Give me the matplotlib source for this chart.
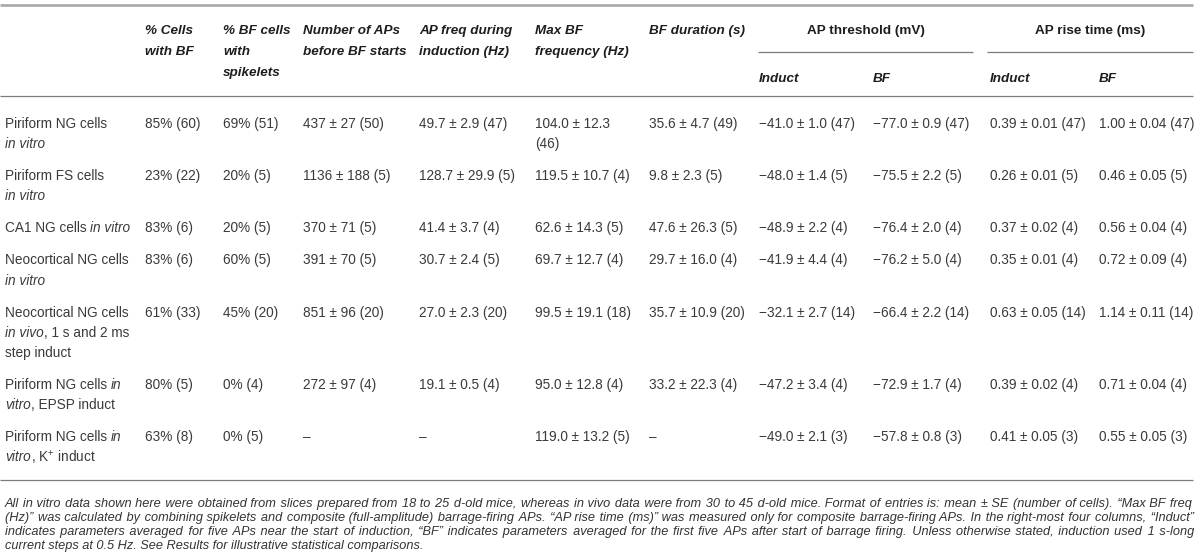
import re
import matplotlib
matplotlib.use("Agg")
import matplotlib.pyplot as plt

plt.rcParams['font.family'] = ['Liberation Sans', 'DejaVu Sans']
plt.rcParams['mathtext.fontset'] = 'custom'
plt.rcParams['mathtext.rm'] = 'Liberation Sans'
plt.rcParams['mathtext.it'] = 'Liberation Sans:italic'

# ---------------- data ----------------
col_headers = ["% Cells\nwith BF", "% BF cells\nwith\nspikelets", "Number of APs\nbefore BF starts",
               "AP freq during\ninduction (Hz)", "Max BF\nfrequency (Hz)", "BF duration (s)"]
span_headers = ["AP threshold (mV)", "AP rise time (ms)"]
sub_headers = ["Induct", "BF", "Induct", "BF"]

row_labels = ["Piriform NG cells\n*in vitro*",
              "Piriform FS cells\n*in vitro*",
              "CA1 NG cells *in vitro*",
              "Neocortical NG cells\n*in vitro*",
              "Neocortical NG cells\n*in vivo*, 1 s and 2 ms\nstep induct",
              "Piriform NG cells *in*\n*vitro*, EPSP induct",
              "Piriform NG cells *in*\n*vitro*, K$^{+}$ induct"]

pct_bf = ["85% (60)", "23% (22)", "83% (6)", "83% (6)", "61% (33)", "80% (5)", "63% (8)"]
pct_spk = ["69% (51)", "20% (5)", "20% (5)", "60% (5)", "45% (20)", "0% (4)", "0% (5)"]
n_aps = ["437 ± 27 (50)", "1136 ± 188 (5)", "370 ± 71 (5)", "391 ± 70 (5)", "851 ± 96 (20)",
         "272 ± 97 (4)", "–"]
ap_freq = ["49.7 ± 2.9 (47)", "128.7 ± 29.9 (5)", "41.4 ± 3.7 (4)", "30.7 ± 2.4 (5)",
           "27.0 ± 2.3 (20)", "19.1 ± 0.5 (4)", "–"]
max_bf = ["104.0 ± 12.3 (46)", "119.5 ± 10.7 (4)", "62.6 ± 14.3 (5)", "69.7 ± 12.7 (4)",
          "99.5 ± 19.1 (18)", "95.0 ± 12.8 (4)", "119.0 ± 13.2 (5)"]
bf_dur = ["35.6 ± 4.7 (49)", "9.8 ± 2.3 (5)", "47.6 ± 26.3 (5)", "29.7 ± 16.0 (4)",
          "35.7 ± 10.9 (20)", "33.2 ± 22.3 (4)", "–"]
thr_ind = ["−41.0 ± 1.0 (47)", "−48.0 ± 1.4 (5)", "−48.9 ± 2.2 (4)", "−41.9 ± 4.4 (4)",
           "−32.1 ± 2.7 (14)", "−47.2 ± 3.4 (4)", "−49.0 ± 2.1 (3)"]
thr_bf = ["−77.0 ± 0.9 (47)", "−75.5 ± 2.2 (5)", "−76.4 ± 2.0 (4)", "−76.2 ± 5.0 (4)",
          "−66.4 ± 2.2 (14)", "−72.9 ± 1.7 (4)", "−57.8 ± 0.8 (3)"]
rise_ind = ["0.39 ± 0.01 (47)", "0.26 ± 0.01 (5)", "0.37 ± 0.02 (4)", "0.35 ± 0.01 (4)",
            "0.63 ± 0.05 (14)", "0.39 ± 0.02 (4)", "0.41 ± 0.05 (3)"]
rise_bf = ["1.00 ± 0.04 (47)", "0.46 ± 0.05 (5)", "0.56 ± 0.04 (4)", "0.72 ± 0.09 (4)",
           "1.14 ± 0.11 (14)", "0.71 ± 0.04 (4)", "0.55 ± 0.05 (3)"]

footnote = [
    "All in vitro data shown here were obtained from slices prepared from 18 to 25 d-old mice, whereas in vivo data were from 30 to 45 d-old mice. Format of entries is: mean ± SE (number of cells). “Max BF freq",
    "(Hz)” was calculated by combining spikelets and composite (full-amplitude) barrage-firing APs. “AP rise time (ms)” was measured only for composite barrage-firing APs. In the right-most four columns, “Induct”",
    "indicates parameters averaged for five APs near the start of induction, “BF” indicates parameters averaged for the first five APs after start of barrage firing. Unless otherwise stated, induction used 1 s-long",
    "current steps at 0.5 Hz. See Results for illustrative statistical comparisons.",
]

columns = [pct_bf, pct_spk, n_aps, ap_freq, max_bf, bf_dur, thr_ind, thr_bf, rise_ind, rise_bf]

# ---------------- layout ----------------
W, H = 1200, 558
fig = plt.figure(figsize=(W / 100, H / 100), dpi=100)
ax = fig.add_axes([0, 0, 1, 1])
ax.set_xlim(0, W)
ax.set_ylim(H, 0)
ax.axis('off')
renderer = fig.canvas.get_renderer()

label_x = 5
col_x = [145, 223, 303, 419, 535, 649, 759, 873, 990, 1099]
col_maxw = [200, 200, 200, 200, 100, 200, 200, 200, 200, 200]
right_x = 1193
FS = 9.8
FS_H = 9.7
FS_F = 9.2
body_c = '#3a3a3a'
head_c = '#1e1e1e'
LINE = 20.2
ROW_GAP = 32.0
BASE = 5.0


def tw(s, **kw):
    t = ax.text(0, 0, s, **kw)
    w = t.get_window_extent(renderer).width
    t.remove()
    return w


def space_w(**kw):
    return tw("x x", **kw) - tw("xx", **kw)


def draw_segments(x, yc, line, size, color, weight='normal'):
    parts = [p for p in re.split(r'(\*[^*]+\*)', line) if p]
    for p in parts:
        style = 'normal'
        if p.startswith('*') and p.endswith('*'):
            p = p[1:-1]
            style = 'italic'
        kw = dict(fontsize=size, fontstyle=style, fontweight=weight, color=color)
        sp = space_w(**kw)
        lead = len(p) - len(p.lstrip(' '))
        trail = len(p) - len(p.rstrip(' '))
        x += lead * sp
        s = p.strip(' ')
        if s:
            ax.text(x, yc + BASE, s, ha='left', va='baseline', **kw)
            x += tw(s, **kw)
        x += trail * sp


def wrap(s, maxw, **kw):
    if tw(s, **kw) <= maxw:
        return [s]
    words = s.split(' ')
    lines, cur = [], ''
    for w in words:
        trial = (cur + ' ' + w).strip()
        if cur and tw(trial, **kw) > maxw:
            lines.append(cur)
            cur = w
        else:
            cur = trial
    lines.append(cur)
    return lines


# rules
ax.plot([0, right_x], [5, 5], color='#a8a8a8', lw=1.9, solid_capstyle='butt')
ax.plot([0, right_x], [96, 96], color='#7c7c7c', lw=0.9, solid_capstyle='butt')
ax.plot([758, 973], [52, 52], color='#7c7c7c', lw=0.9, solid_capstyle='butt')
ax.plot([987, right_x], [52, 52], color='#7c7c7c', lw=0.9, solid_capstyle='butt')

# headers
for i, h in enumerate(col_headers):
    for k, ln in enumerate(h.split('\n')):
        ax.text(col_x[i], 29 + k * 21 + BASE, ln, fontsize=FS_H, fontweight='bold',
                fontstyle='italic', color=head_c, ha='left', va='baseline')
span_centers = [(758 + 973) / 2, (987 + right_x) / 2]
for c, h in zip(span_centers, span_headers):
    ax.text(c, 29 + BASE, h, fontsize=FS_H, fontweight='bold', color=head_c,
            ha='center', va='baseline')
for i, h in enumerate(sub_headers):
    ax.text(col_x[6 + i], 76.5 + BASE, h, fontsize=FS_H, fontweight='bold',
            fontstyle='italic', color=head_c, ha='left', va='baseline')

# body
y = 123.0
for r, lab in enumerate(row_labels):
    lab_lines = lab.split('\n')
    nlines = len(lab_lines)
    for k, ln in enumerate(lab_lines):
        draw_segments(label_x, y + k * LINE, ln, FS, body_c)
    for c, col in enumerate(columns):
        cell = wrap(col[r], col_maxw[c], fontsize=FS)
        nlines = max(nlines, len(cell))
        for k, ln in enumerate(cell):
            ax.text(col_x[c], y + k * LINE + BASE, ln, fontsize=FS, color=body_c,
                    ha='left', va='baseline')
    last = y + (nlines - 1) * LINE
    y = last + ROW_GAP

bottom_y = last + 24
ax.plot([0, right_x], [bottom_y, bottom_y], color='#7c7c7c', lw=0.9, solid_capstyle='butt')

# footnote (justified with hair spaces, single string per line)
fy = bottom_y + 23
FL = 14.0
fkw = dict(fontsize=FS_F, fontstyle='italic', color='#333333')
HAIR = '\u200a'
hair_w = tw("x" + HAIR * 10 + "x", **fkw) - tw("xx", **fkw)
hair_w = hair_w / 10 if hair_w > 0 else None
for k, ln in enumerate(footnote):
    yy = fy + k * FL + 4
    if k < len(footnote) - 1 and hair_w:
        words = ln.split(' ')
        natural = tw(ln, **fkw)
        extra = right_x - label_x - natural
        per_gap = extra / (len(words) - 1)
        out = words[0]
        acc = 0.0
        used = 0
        for i, w in enumerate(words[1:], start=1):
            acc += per_gap
            n = int(round(acc / hair_w)) - used
            used += n
            out += ' ' + HAIR * max(n, 0) + w
        ax.text(label_x, yy, out, ha='left', va='baseline', **fkw)
    else:
        ax.text(label_x, yy, ln, ha='left', va='baseline', **fkw)

fig.savefig('out.png', dpi=100)
